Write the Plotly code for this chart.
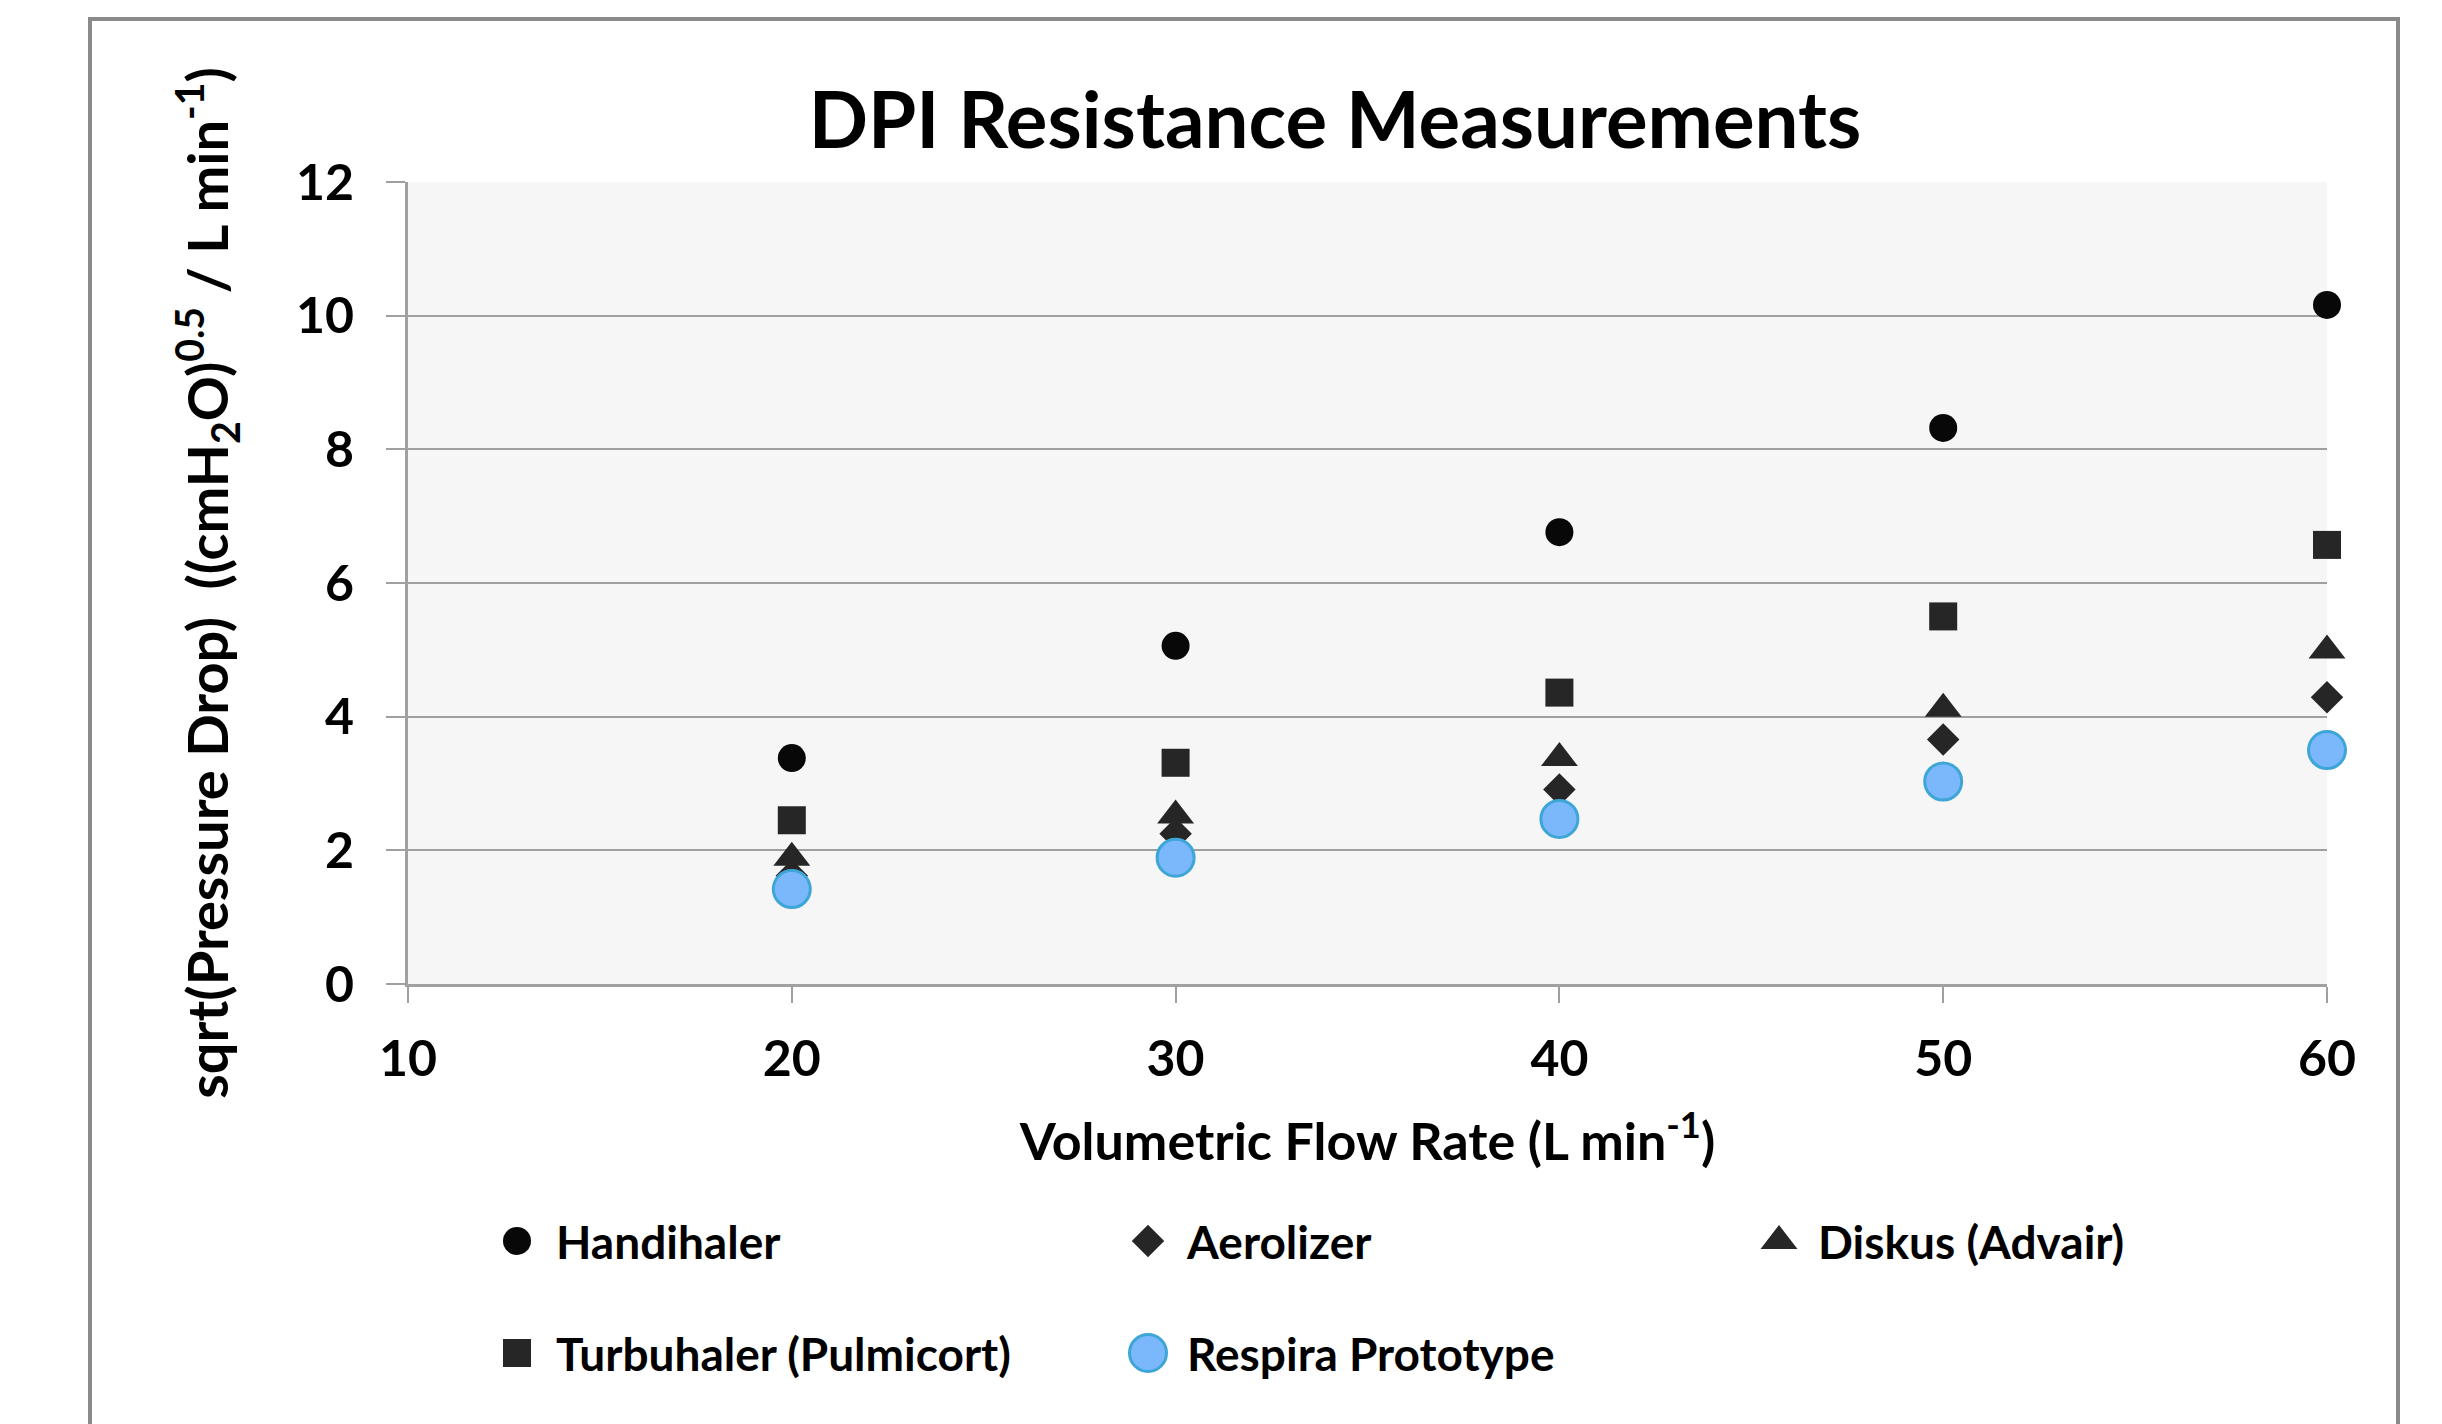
import plotly.graph_objects as go

flow_rate = [20, 30, 40, 50, 60]
handihaler = [3.38, 5.06, 6.76, 8.32, 10.16]
aerolizer = [1.62, 2.25, 2.91, 3.66, 4.29]
diskus = [1.89, 2.52, 3.38, 4.12, 4.99]
turbuhaler = [2.45, 3.31, 4.36, 5.50, 6.57]
respira = [1.42, 1.89, 2.47, 3.03, 3.50]

x_ticks = [10, 20, 30, 40, 50, 60]
y_ticks = [0, 2, 4, 6, 8, 10, 12]

W, H = 2442, 1424
OFF = 8  # page body offset
ML, MT = 408 - OFF, 182 - OFF
PR, PB = 2327 - OFF, 984 - OFF
MR, MB = W - PR, H - PB
PW = PR - ML
PH = PB - MT

def px(xpage):
    return (xpage - OFF - ML) / PW

def py(ypage):
    return (PB - (ypage - OFF)) / PH

FONT = "Lato"
dark = "#262626"

fig = go.Figure()

def add(name, y, symbol, size, color, line_color=None, line_width=0, legend="legend"):
    fig.add_trace(go.Scatter(
        x=flow_rate, y=y, mode="markers", name=name, legend=legend, cliponaxis=False,
        marker=dict(symbol=symbol, size=size, color=color,
                    line=dict(color=line_color or color, width=line_width)),
    ))

add("Handihaler", handihaler, "circle", 28, "#080808")
add("Aerolizer", aerolizer, "diamond", 25, dark)
add("Diskus (Advair)", diskus, "triangle-up", 32, dark)
add("Turbuhaler (Pulmicort)", turbuhaler, "square", 28, dark, legend="legend2")
add("Respira Prototype", respira, "circle", 37, "#7ab8fb", "#3ea6d6", 3, legend="legend2")

tick_font = dict(family=FONT, size=50, color="#000000", weight="bold")

legend_common = dict(
    orientation="h", xref="paper", yref="paper", xanchor="left", yanchor="middle",
    entrywidth=548, entrywidthmode="pixels", itemwidth=68, bgcolor="rgba(0,0,0,0)",
    font=dict(family=FONT, size=46, color="#000000", weight="bold"),
)

fig.update_layout(
    width=W, height=H,
    margin=dict(l=ML, r=MR, t=MT, b=MB, autoexpand=False),
    paper_bgcolor="white",
    plot_bgcolor="#f6f6f6",
    title=dict(text="DPI Resistance Measurements", x=px(1335), xref="paper",
               xanchor="center", y=1 - (121 - OFF) / H, yref="container", yanchor="middle",
               font=dict(family=FONT, size=78, color="#000000", weight="bold")),
    xaxis=dict(
        range=[10, 60], tickvals=x_ticks, ticktext=[str(v) for v in x_ticks],
        showgrid=False, zeroline=False,
        showline=True, linecolor="#a0a0a0", linewidth=3,
        ticks="outside", ticklen=16, tickwidth=2, tickcolor="#a0a0a0",
        tickfont=tick_font, ticklabelstandoff=13,
        title=dict(text="Volumetric Flow Rate (L min<sup>-1</sup>)", standoff=38,
                   font=dict(family=FONT, size=52, color="#000000", weight="bold")),
    ),
    yaxis=dict(
        range=[0, 12], tickvals=y_ticks, ticktext=[str(v) for v in y_ticks],
        showgrid=True, gridcolor="#a0a0a0", gridwidth=2, zeroline=False,
        showline=True, linecolor="#a0a0a0", linewidth=3,
        ticks="outside", ticklen=19, tickwidth=2, tickcolor="#a0a0a0",
        tickfont=tick_font, ticklabelstandoff=22,
        title=dict(text="sqrt(Pressure Drop)&nbsp;&nbsp;((cmH<sub>2</sub>O)<sup>0.5</sup> / L min<sup>-1</sup>)",
                   standoff=50,
                   font=dict(family=FONT, size=56, color="#000000", weight="bold")),
    ),
    legend=dict(x=px(478), y=py(1241), **legend_common),
    legend2=dict(x=px(478), y=py(1353), **legend_common),
    shapes=[dict(type="rect", xref="paper", yref="paper",
                 x0=px(90), x1=px(2398),
                 y0=-0.7, y1=py(19),
                 line=dict(color="#8a8a8a", width=4), layer="below")],
)

# enlarge legend symbols to the same size as the plotted markers (plotly caps them at 16px)
post = """
var gd = document.getElementById('{plot_id}');
gd.querySelectorAll('.infolayer g.traces').forEach(function(g){
  var d = g.__data__; if(!d || !d[0] || !d[0].trace) return;
  var tr = d[0].trace; var s = tr.marker.size / 16;
  var lw = (tr.marker.line && tr.marker.line.width) || 0;
  g.querySelectorAll('path.scatterpts').forEach(function(p){
    var t = p.getAttribute('transform') || '';
    p.setAttribute('transform', t + ' scale(' + s + ')');
    p.style.strokeWidth = (lw / s) + 'px';
  });
});
"""

fig.write_html("out.html", post_script=post)
